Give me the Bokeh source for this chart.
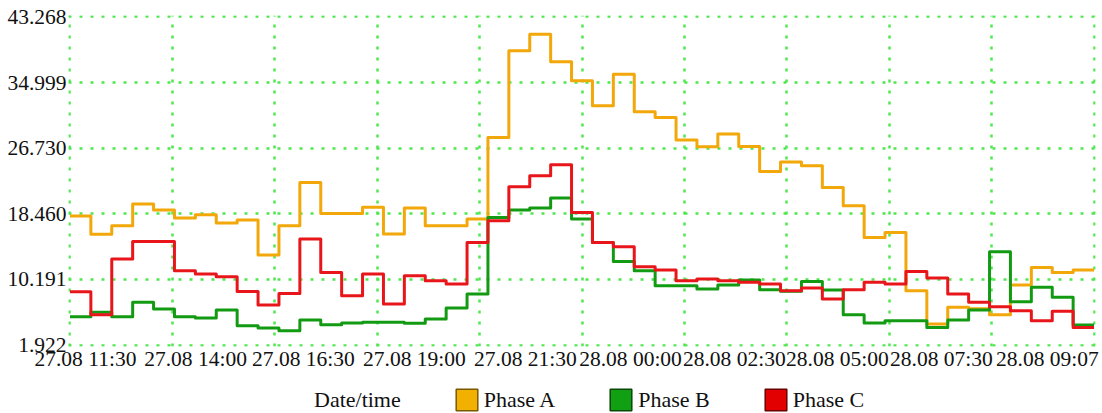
from bokeh.plotting import figure
from bokeh.layouts import column
from bokeh.models import (Range1d, FixedTicker, Legend, LegendItem,
                          ColumnDataSource, PrintfTickFormatter)
from bokeh.embed import file_html
from bokeh.resources import INLINE

# ---------------- data ----------------
x_tick_labels = ["27.08 11:30", "27.08 14:00", "27.08 16:30", "27.08 19:00",
                 "27.08 21:30", "28.08 00:00", "28.08 02:30", "28.08 05:00",
                 "28.08 07:30", "28.08 09:07"]
x_tick_pos = [0.74, 6.01, 11.17, 16.48, 21.79, 26.82, 31.79, 36.72, 41.7, 46.77]
y_ticks = [1.922, 10.191, 18.460, 26.730, 34.999, 43.268]

phase_a = [18.2, 15.9, 16.96, 19.7, 18.94, 17.93, 18.35, 17.3, 17.68, 13.27,
           16.96, 22.4, 18.51, 18.51, 19.3, 15.92, 19.19, 16.96, 16.96, 17.8,
           28.08, 38.99, 41.09, 37.6, 35.21, 32.07, 36.05, 31.31, 30.59, 27.75,
           26.9, 28.5, 26.94, 23.8, 24.98, 24.51, 21.78, 19.48, 15.49, 16.12,
           8.78, 4.59, 6.68, 6.5, 5.76, 9.5, 11.71, 11.08, 11.4]
phase_b = [5.51, 6.05, 5.51, 7.31, 6.48, 5.51, 5.34, 6.35, 4.38, 4.09,
           3.75, 5.09, 4.5, 4.71, 4.8, 4.8, 4.67, 5.22, 6.6, 8.37,
           18.0, 18.94, 19.19, 20.45, 17.8, 14.86, 12.47, 11.3, 9.41, 9.41,
           8.99, 9.5, 10.13, 8.91, 8.7, 9.95, 8.87, 5.76, 4.71, 5.0,
           5.0, 4.16, 5.09, 6.35, 13.69, 7.4, 9.2, 7.94, 4.46]
phase_c = [8.65, 5.76, 12.77, 14.99, 14.99, 11.3, 10.88, 10.54, 8.69, 6.98,
           8.44, 15.29, 11.08, 8.15, 10.88, 7.1, 10.67, 10.04, 9.62, 14.86,
           17.59, 21.87, 23.25, 24.64, 18.64, 14.86, 14.32, 11.8, 11.38, 10.04,
           10.25, 10.04, 9.83, 9.62, 8.78, 9.12, 7.73, 8.91, 9.83, 9.62,
           11.21, 10.38, 8.37, 7.31, 6.77, 6.26, 5.0, 6.18, 4.16]

series_names = ["Phase A", "Phase B", "Phase C"]
line_colors = ["#F2A70A", "#139A13", "#E8161B"]
box_fill = ["#F2B000", "#11A011", "#E20000"]
box_line = ["#7A5800", "#0B460B", "#6A0000"]

FONT = "Liberation Serif"

# ---------------- main figure ----------------
n = len(phase_a)
x_edges = list(range(n + 1))
x_pad = 0.07   # keeps the edge grid lines fully visible
y_pad = 0.17

p = figure(width=1102, height=373, output_backend="svg", toolbar_location=None,
           x_range=Range1d(-x_pad, n + x_pad),
           y_range=Range1d(y_ticks[0] - y_pad, y_ticks[-1] + y_pad),
           min_border_left=68, min_border_right=7, min_border_top=15,
           min_border_bottom=27)
p.outline_line_color = None
p.background_fill_color = "white"
p.border_fill_color = "white"

grid_div = 10
p.xgrid.ticker = FixedTicker(ticks=[n * k / grid_div for k in range(grid_div + 1)])
for g in (p.xgrid, p.ygrid):
    g.grid_line_color = "#4EE84E"
    g.grid_line_dash = "3 8"
    g.grid_line_width = 2.5

p.xaxis.ticker = FixedTicker(ticks=x_tick_pos)
p.xaxis.major_label_overrides = {t: l for t, l in zip(x_tick_pos, x_tick_labels)}
p.yaxis.ticker = FixedTicker(ticks=y_ticks)
p.yaxis.formatter = PrintfTickFormatter(format="%.3f")

for ax in (p.xaxis, p.yaxis):
    ax.axis_line_color = None
    ax.major_tick_line_color = None
    ax.minor_tick_line_color = None
    ax.major_tick_out = 0
    ax.major_tick_in = 0
    ax.major_label_text_font = FONT
    ax.major_label_text_color = "#111111"
    ax.major_label_text_font_size = "21.5px"
p.yaxis.major_label_standoff = 2
p.xaxis.major_label_standoff = 0

for vals, col in zip([phase_a, phase_b, phase_c], line_colors):
    src = ColumnDataSource(dict(x=x_edges, y=list(vals) + [vals[-1]]))
    p.step("x", "y", source=src, mode="after", line_color=col, line_width=3,
           line_join="round")

# ---------------- legend strip ----------------
lg = figure(width=1102, height=40, output_backend="svg", toolbar_location=None,
            x_axis_type=None, y_axis_type=None, min_border=0,
            x_range=Range1d(0, 1), y_range=Range1d(0, 1))
lg.outline_line_color = None
lg.xgrid.visible = False
lg.ygrid.visible = False

nan_src = ColumnDataSource(dict(x=[float("nan")], y=[float("nan")]))
r_dt = lg.rect("x", "y", width=1, height=1, source=nan_src,
               fill_alpha=0, line_alpha=0)
items = [LegendItem(label="Date/time", renderers=[r_dt])]
for name, fc, lc in zip(series_names, box_fill, box_line):
    r = lg.rect("x", "y", width=1, height=1, source=nan_src, fill_color=fc,
                line_color=lc, line_width=1.5)
    items.append(LegendItem(label=name, renderers=[r]))

legend = Legend(items=items, orientation="horizontal", location=(215, 0),
                glyph_width=27, glyph_height=27, label_standoff=4, spacing=52,
                padding=0, margin=0, border_line_color=None,
                background_fill_alpha=0, label_text_font=FONT,
                label_text_font_size="22px", label_text_color="#111111")
lg.add_layout(legend, "center")

layout = column(p, lg, spacing=0)
open("out.html", "w").write(file_html(layout, INLINE))
